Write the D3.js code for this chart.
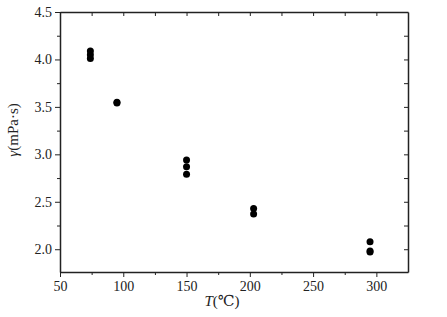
<!DOCTYPE html>
<html><head><meta charset="utf-8">
<script src="https://cdn.jsdelivr.net/npm/d3@7"></script>
<style>body{margin:0;background:#fff}svg{display:block}text{font-family:"Liberation Serif","DejaVu Serif",serif}</style>
</head><body><svg id="c" width="447" height="317"></svg>
<script>
const temperatures = [74,74,74, 95,95, 150,150,150, 203,203, 295,295,295];
const viscosity    = [4.09,4.05,4.01, 3.55,3.54, 2.94,2.87,2.79, 2.43,2.37, 2.08,1.98,1.97];
const xTicks = [50,100,150,200,250,300];
const yTicks = [2.0,2.5,3.0,3.5,4.0,4.5];
const xMinor = [75,125,175,225,275,325];
const yMinor = [1.75,2.25,2.75,3.25,3.75,4.25];

const svg = d3.select("#c");
const L=60,R=408,T=12,B=272;
const x = d3.scaleLinear().domain([50,325]).range([L,R]);
const y = d3.scaleLinear().domain([1.76,4.5]).range([B,T]);
const col="#222";
const fmt=d3.format(".1f");

function style(g){g.selectAll("path,line").attr("stroke",col);g.select(".domain").attr("stroke-width",1.5);
  g.selectAll("text").attr("font-size",14).attr("fill","#222");}

svg.append("g").attr("transform",`translate(0,${B})`)
 .call(d3.axisBottom(x).tickValues(xTicks).tickSize(5).tickSizeOuter(0).tickPadding(4)).call(style);
svg.append("g").attr("transform",`translate(0,${B})`)
 .call(d3.axisBottom(x).tickValues(xMinor.filter(v=>v<325)).tickSize(3).tickFormat("")).call(g=>g.select(".domain").remove()).call(style);
svg.append("g").attr("transform",`translate(${L},0)`)
 .call(d3.axisLeft(y).tickValues(yTicks).tickFormat(fmt).tickSize(5).tickSizeOuter(0).tickPadding(3)).call(style);
svg.append("g").attr("transform",`translate(${L},0)`)
 .call(d3.axisLeft(y).tickValues(yMinor.filter(v=>v>1.76)).tickSize(3).tickFormat("")).call(g=>g.select(".domain").remove()).call(style);
svg.append("g").attr("transform",`translate(0,${T})`)
 .call(d3.axisBottom(x).tickValues(xTicks.concat(xMinor.filter(v=>v<325))).tickSize(4).tickSizeOuter(0).tickFormat("")).call(style);
svg.append("g").attr("transform",`translate(${R},0)`)
 .call(d3.axisLeft(y).tickValues(yTicks.concat(yMinor.filter(v=>v>1.76))).tickSize(4).tickSizeOuter(0).tickFormat("")).call(style);

svg.append("g").selectAll("circle").data(temperatures).join("circle")
 .attr("cx",(d)=>x(d)).attr("cy",(d,i)=>y(viscosity[i])).attr("r",3.5).attr("fill","#000");

svg.append("text").attr("x",222).attr("y",306).attr("text-anchor","middle").attr("font-size",15).attr("fill","#222")
 .html('<tspan font-style="italic">T</tspan>(℃)');
svg.append("text").attr("transform","translate(18,130) rotate(-90)").attr("text-anchor","middle").attr("font-size",15).attr("fill","#222")
 .html('<tspan font-style="italic">γ</tspan>(mPa·s)');
</script></body></html>
